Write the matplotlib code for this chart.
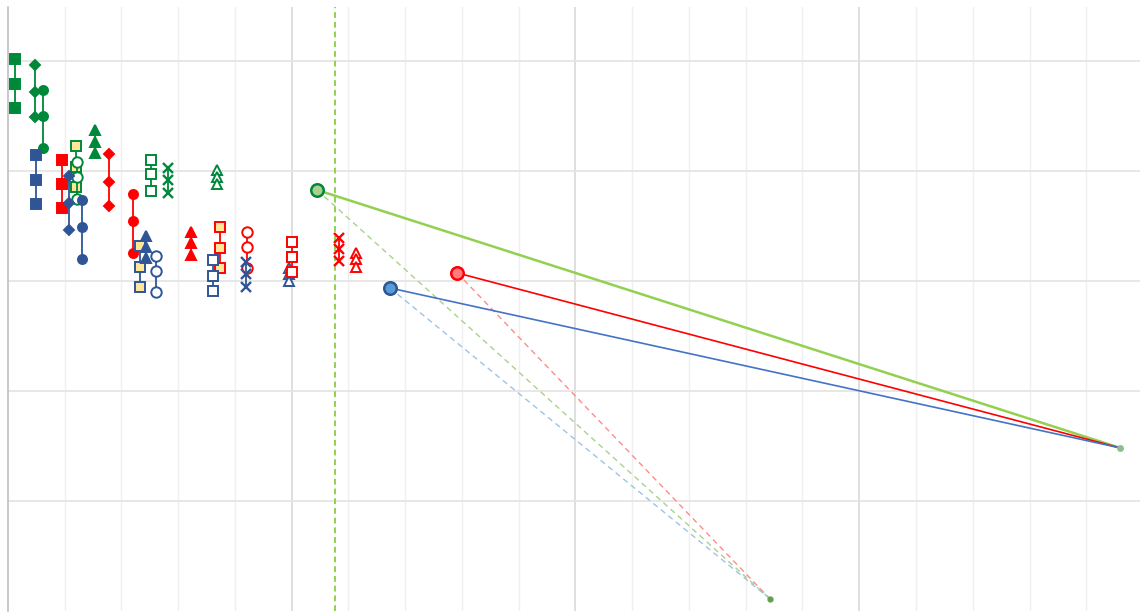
import matplotlib
matplotlib.use('Agg')
import matplotlib.pyplot as plt
import numpy as np

# 수직 범위 막대 (x, high, mid, low)
series_x = [0.025, 0.095, 0.123, 0.099, 0.190, 0.240, 0.243, 0.215, 0.261,
            0.307, 0.356, 0.441, 0.465, 0.486, 0.522, 0.504, 0.564, 0.737,
            0.645, 0.747, 0.723, 0.842, 0.839, 0.990, 1.001, 1.165, 1.227]
series_hi = [5.018, 4.964, 4.736, 4.145, 4.100, 4.227, 4.082, 3.955, 3.736,
             4.373, 4.155, 3.791, 3.318, 3.409, 3.227, 4.100, 4.027, 4.009,
             3.445, 3.491, 3.191, 3.445, 3.173, 3.118, 3.355, 3.391, 3.255]
series_mid = [4.791, 4.718, 4.500, 3.918, 3.882, 4.036, 3.945, 3.709, 3.491,
              4.264, 3.900, 3.545, 3.127, 3.309, 3.091, 3.973, 3.918, 3.945,
              3.345, 3.300, 3.045, 3.309, 3.064, 3.064, 3.218, 3.291, 3.200]
series_lo = [4.573, 4.491, 4.209, 3.700, 3.664, 3.855, 3.745, 3.464, 3.200,
             4.164, 3.682, 3.255, 2.945, 3.209, 2.900, 3.818, 3.800, 3.882,
             3.236, 3.118, 2.909, 3.118, 2.945, 3.000, 3.082, 3.182, 3.127]
series_color = ['g', 'g', 'g', 'b', 'r', 'g', 'g', 'b', 'b',
                'g', 'r', 'r', 'b', 'b', 'b', 'g', 'g', 'g',
                'r', 'r', 'b', 'r', 'b', 'b', 'r', 'r', 'r']
series_marker = ['s', 'D', 'o', 's', 's', 's', 'o', 'D', 'o',
                 '^', 'D', 'o', 's', '^', 'o', 's', 'x', '^',
                 '^', 's', 's', 'o', 'x', '^', 's', 'x', '^']
series_fill = ['full', 'full', 'full', 'full', 'full', 'yellow', 'open', 'full', 'full',
               'full', 'full', 'full', 'yellow', 'full', 'open', 'open', 'full', 'open',
               'full', 'yellow', 'open', 'open', 'full', 'open', 'open', 'full', 'open']

# 큰 원 점과 수렴점
big_x = [1.089, 1.583, 1.346]
big_y = [3.827, 3.073, 2.936]
big_name = ['g', 'r', 'b']
end_x, end_y = 3.920, 1.482
low_x, low_y = 2.686, 0.109
vline_x = 1.153

colors = {'g': '#00883A', 'b': '#2F5597', 'r': '#FF0000'}
big_face = {'g': '#A9D18E', 'r': '#FF7C80', 'b': '#5B9BD5'}
big_edge = {'g': '#00883A', 'r': '#FF0000', 'b': '#2F5597'}
solid_col = {'g': '#92D050', 'r': '#FF0000', 'b': '#4472C4'}
dash_col = {'g': '#A9D18E', 'r': '#FF8A8A', 'b': '#9DC3E6'}

fig = plt.figure(figsize=(11.4, 6.12), dpi=100)
ax = fig.add_axes([8 / 1140, 1 / 612, 1135 / 1140, 604 / 612])
ax.set_xlim(0, 4)
ax.set_ylim(0, 5.49)

# 격자
for xv in np.arange(0.2, 4.0, 0.2):
    major = abs(xv - round(xv)) < 1e-6
    ax.axvline(xv, color='#D9D9D9' if major else '#EFEFEF', lw=1.2 if major else 1.0, zorder=0)
for yv in range(1, 6):
    ax.axhline(yv, color='#E3E3E3', lw=1.2, zorder=0)

for s in ['top', 'right', 'bottom']:
    ax.spines[s].set_visible(False)
ax.spines['left'].set_color('#BFBFBF')
ax.spines['left'].set_linewidth(1.2)
ax.set_xticks([])
ax.set_yticks([])

ax.axvline(vline_x, color='#92D050', lw=1.4, linestyle=(0, (3, 2)), zorder=1)

# 범위 막대
for i in range(len(series_x)):
    c = colors[series_color[i]]
    m = series_marker[i]
    if series_fill[i] == 'yellow':
        fc = '#FFE699'
    elif series_fill[i] == 'open':
        fc = 'white'
    else:
        fc = c
    ms = 6.5
    mew = 1.4
    if m == 'D':
        ms = 4.8
    elif m == 'x':
        ms = 7
        mew = 1.7
    elif series_fill[i] == 'open' and m in ('o', 's'):
        ms = 7.5
    ax.plot([series_x[i]] * 3, [series_hi[i], series_mid[i], series_lo[i]],
            color=c, lw=1.3, marker=m, markersize=ms, markerfacecolor=fc,
            markeredgecolor=c, markeredgewidth=mew, zorder=3)

# 연결선
for i, k in enumerate(big_name):
    ax.plot([big_x[i], low_x], [big_y[i], low_y], color=dash_col[k], lw=1.0,
            linestyle=(0, (4, 3)), zorder=2)
for i, k in enumerate(big_name):
    ax.plot([big_x[i], end_x], [big_y[i], end_y], color=solid_col[k],
            lw=1.8 if k == 'g' else 1.2, zorder=2)
for i, k in enumerate(big_name):
    ax.plot(big_x[i], big_y[i], marker='o', markersize=9, markerfacecolor=big_face[k],
            markeredgecolor=big_edge[k], markeredgewidth=1.8, zorder=4)

ax.plot(end_x, end_y, marker='o', markersize=4, color='#8FBF8F', zorder=4)
ax.plot(low_x, low_y, marker='o', markersize=3.5, color='#5CA34A', zorder=4)

fig.savefig('out.png', dpi=100)
